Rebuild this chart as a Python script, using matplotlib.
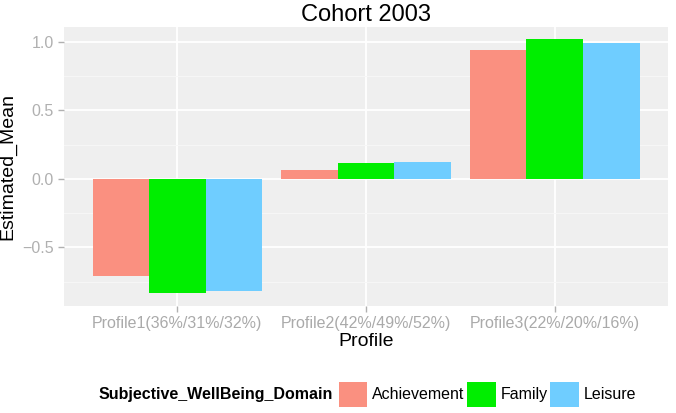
import matplotlib
matplotlib.use("Agg")
import numpy as np
import matplotlib.pyplot as plt
from matplotlib.patches import Patch

plt.rcParams['font.family'] = ['Liberation Sans', 'DejaVu Sans']

# data
profiles = ['Profile1(36%/31%/32%)', 'Profile2(42%/49%/52%)', 'Profile3(22%/20%/16%)']
domains = ['Achievement', 'Family', 'Leisure']
achievement = [-0.71, 0.066, 0.94]
family = [-0.834, 0.114, 1.017]
leisure = [-0.818, 0.122, 0.988]
colors = ['#FA9080', '#00EE00', '#6FCDFF']

fig = plt.figure(figsize=(6.76, 4.13), dpi=100)
ax = fig.add_axes([0.095, 0.259, 0.893, 0.676])
ax.set_facecolor('#EFEFEF')

x = np.arange(1, len(profiles) + 1)
w = 0.3
for i, (vals, c) in enumerate(zip([achievement, family, leisure], colors)):
    ax.bar(x + (i - 1) * w, vals, width=w, color=c, zorder=3)

ax.set_xlim(0.4, 3.6)
ax.set_ylim(-0.927, 1.109)
ax.set_xticks(x)
ax.set_xticklabels(profiles)
ax.set_yticks([-0.5, 0.0, 0.5, 1.0])
ax.set_yticks([-0.75, -0.25, 0.25, 0.75], minor=True)
ax.grid(True, which='major', color='white', linewidth=1.3, zorder=1)
ax.grid(True, which='minor', axis='y', color='#F7F7F7', linewidth=0.7, zorder=1)
for s in ax.spines.values():
    s.set_visible(False)
ax.tick_params(axis='both', which='major', colors='#B0B0B0', labelsize=11.5, length=4, width=1)
ax.tick_params(axis='both', which='minor', length=0)
ax.tick_params(axis='x', labelcolor='#AAAAAA')

ax.set_title('Cohort 2003', fontsize=17, pad=4)
ax.set_xlabel('Profile', fontsize=14, labelpad=1)
ax.set_ylabel('Estimated_Mean', fontsize=14, labelpad=4)

# legend at bottom
fig.text(0.145, 0.045, 'Subjective_WellBeing_Domain', fontsize=11.5, fontweight='bold',
         ha='left', va='center')
handles = [Patch(facecolor=c, edgecolor='none') for c in colors]
fig.legend(handles, domains, loc='center left', bbox_to_anchor=(0.501, 0.045), ncol=3,
           frameon=False, fontsize=11.5, handlelength=1.8, handleheight=2.0,
           handletextpad=0.3, columnspacing=0.15, borderpad=0, borderaxespad=0)

fig.savefig('out.png', dpi=100)
